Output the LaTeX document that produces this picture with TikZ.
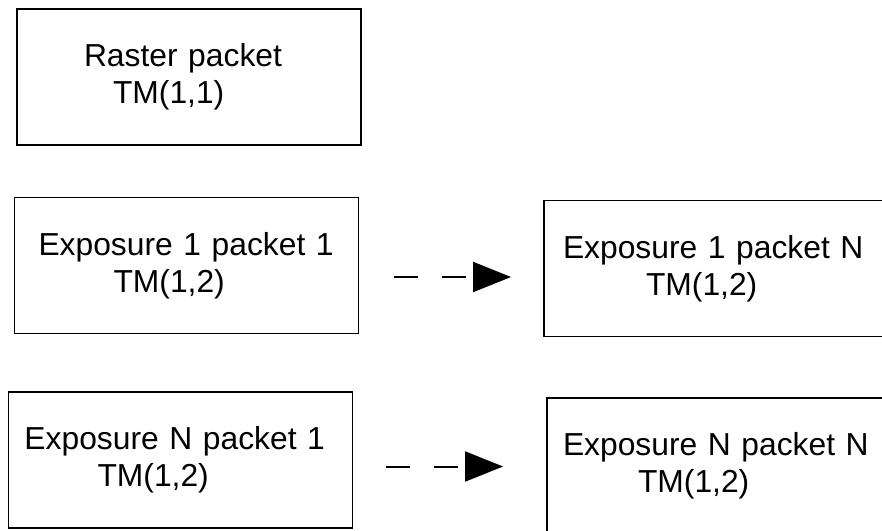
\documentclass[tikz,border=0pt]{standalone}
\usepackage{fontspec}
\setmainfont{Liberation Sans}
\usepackage{tikz}
\usetikzlibrary{arrows.meta}
\tikzset{
  pk diagram/.style={font=\fontsize{15.9}{18.5}\selectfont, text=black},
  pk box/.style={draw=black, fill=white, line width=0.95pt,
    minimum width=172pt, minimum height=68pt, text width=156pt,
    align=left, inner xsep=8pt, inner ysep=0pt},
  pk flow/.style={-{Triangle[length=19pt,width=15pt]}, draw=black,
    line width=1pt, dash pattern=on 12pt off 12pt}
}
\begin{document}
\begin{tikzpicture}[pk diagram,x=0.5pt,y=-0.5pt]
\useasboundingbox (0,0) rectangle (882,530);
\clip (0,0) rectangle (882,530);
\node[pk box] (raster) at (189,77)
  {\hspace*{25.5pt}Raster packet\\\hspace*{40pt}TM(1,1)};
\node[pk box] (exp11) at (186.5,265.5)
  {\hspace*{4pt}Exposure 1 packet 1\\\hspace*{41.5pt}TM(1,2)};
\node[pk box] (exp1N) at (716,268.5)
  {\hspace*{1.5pt}Exposure 1 packet N\\\hspace*{43pt}TM(1,2)};
\node[pk box] (expN1) at (180.5,460)
  {Exposure N packet 1\\\hspace*{36.5pt}TM(1,2)};
\node[pk box] (expNN) at (719,466)
  {Exposure N packet N\\\hspace*{37.5pt}TM(1,2)};
\draw[pk flow] ([shift={(35,11.5)}]exp11.east) -- ([shift={(-32,8.5)}]exp1N.west);
\draw[pk flow] ([shift={(33,6.5)}]expN1.east) -- ([shift={(-43,0.5)}]expNN.west);
\end{tikzpicture}
\end{document}
